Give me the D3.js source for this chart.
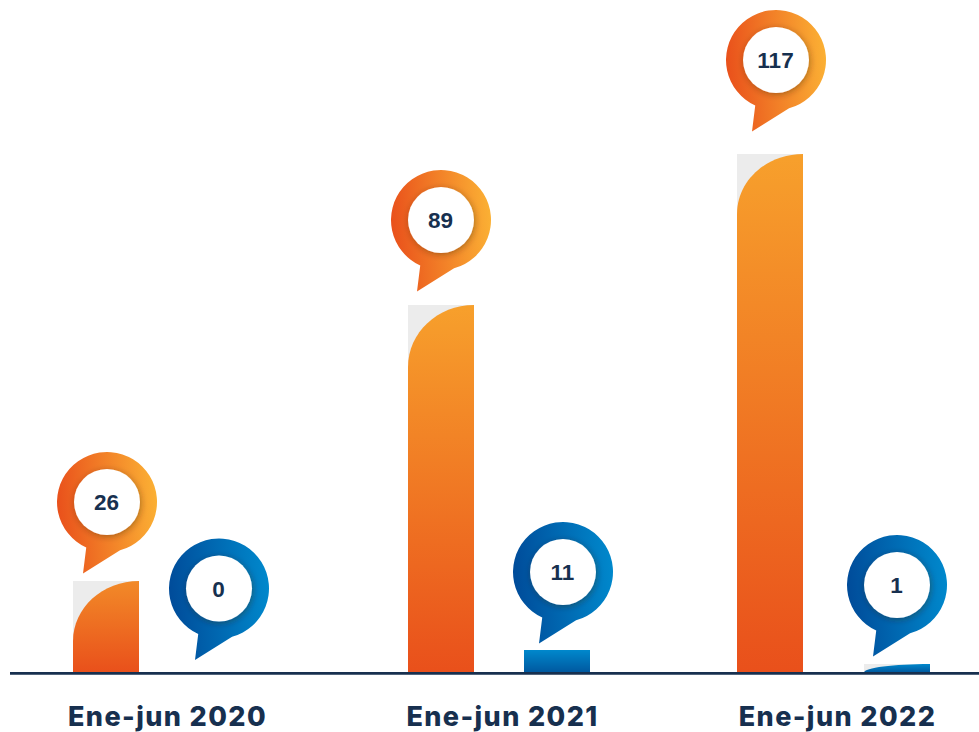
<!DOCTYPE html>
<html><head><meta charset="utf-8">
<script src="https://cdn.jsdelivr.net/npm/d3@7"></script>
<style>html,body{margin:0;padding:0;background:#fff}svg{display:block}</style>
</head><body><div id="chart"></div>
<script>
const categories = ["Ene-jun 2020", "Ene-jun 2021", "Ene-jun 2022"];
const orangeValues = [26, 89, 117];
const blueValues = [0, 11, 1];
// The source graphic is not drawn to a linear scale: these are the value / height pairs it uses.
const scaleValues = [0, 1, 11, 26, 89, 117];
const scaleHeights = [0, 8.5, 22.5, 91.5, 367.5, 518.5];

const W = 979, H = 732, baseY = 672.5, barW = 66;
const navy = "#17304f";
const xScale = d3.scalePoint().domain(categories).range([167, 837]);
const hScale = d3.scaleLinear().domain(scaleValues).range(scaleHeights);

// layout: bar centre offset from the group centre, pin offset from the bar-top
const layout = {
  orange: {barDx: [-61, -61, -67], pinDx: [1, 0, 6], pinDy: [-79, -85, -94], ry: [60, 62, 60], rx: [66, 66, 66], top: ["#f28a28", "#f7a02c", "#f7a02c"]},
  blue: {barDx: [52, 55, 60], pinDx: [0, 6, 0], pinDy: [-84, -78, -79], ry: [0, 0, 8.5], rx: [0, 0, 66], top: ["#0088cc", "#0088cc", "#0088cc"]}
};
const ends = {
  orange: {bottom: "#e9501b", left: "#e9501b", right: "#fbb034"},
  blue: {bottom: "#00589f", left: "#004b99", right: "#0088cc"}
};

const svg = d3.select("#chart").append("svg").attr("width", W).attr("height", H);
const defs = svg.append("defs");
for (const k of ["orange", "blue"]) {
  const g = defs.append("linearGradient").attr("id", "pin-" + k).attr("x1", 0).attr("x2", 1).attr("y1", .5).attr("y2", .42);
  g.append("stop").attr("offset", 0).attr("stop-color", ends[k].left);
  g.append("stop").attr("offset", 1).attr("stop-color", ends[k].right);
  layout[k].top.forEach((c, i) => {
    const b = defs.append("linearGradient").attr("id", `bar-${k}-${i}`).attr("x1", 0).attr("x2", 0).attr("y1", 0).attr("y2", 1);
    b.append("stop").attr("offset", 0).attr("stop-color", c);
    b.append("stop").attr("offset", 1).attr("stop-color", ends[k].bottom);
  });
}
const f = defs.append("filter").attr("id", "sh").attr("x", "-30%").attr("y", "-30%").attr("width", "160%").attr("height", "160%");
f.append("feDropShadow").attr("dx", 1).attr("dy", 1.5).attr("stdDeviation", 3).attr("flood-color", "#3a2a10").attr("flood-opacity", .4);

function drawSeries(key, values) {
  const L = layout[key];
  const K = 0.5523;
  values.forEach((v, i) => {
    const cx = xScale(categories[i]) + L.barDx[i];
    const h = hScale(v);
    const x0 = cx - barW / 2, x1 = cx + barW / 2, top = baseY - h;
    if (h > 0) {
      const rx = L.rx[i], ry = L.ry[i];
      if (rx > 0) svg.append("rect").attr("x", x0).attr("y", top).attr("width", barW).attr("height", h).attr("fill", "#ececec");
      const p = d3.path();
      p.moveTo(x1, baseY);
      p.lineTo(x1, top);
      if (rx > 0) p.bezierCurveTo(x1 - rx * K, top, x0, top + ry * (1 - K), x0, top + ry);
      else p.lineTo(x0, top);
      p.lineTo(x0, baseY);
      p.closePath();
      svg.append("path").attr("d", p.toString()).attr("fill", `url(#bar-${key}-${i})`);
    }
    // pin
    const px = cx + L.pinDx[i], py = top + L.pinDy[i], R = 50;
    const pin = d3.path();
    const a0 = Math.atan2(48, 13), a1 = Math.atan2(46, -21);
    pin.moveTo(px + R * Math.cos(a1), py + R * Math.sin(a1));
    pin.arc(px, py, R, a1, a0 + 2 * Math.PI);
    pin.lineTo(px - 24, py + 71.5);
    pin.closePath();
    svg.append("path").attr("d", pin.toString()).attr("fill", `url(#pin-${key})`);
    svg.append("circle").attr("cx", px).attr("cy", py).attr("r", 33).attr("fill", "#fff").attr("filter", "url(#sh)");
    svg.append("text").attr("x", px - 0.5).attr("y", py + 8).attr("text-anchor", "middle")
      .attr("font-family", "'Liberation Sans',Arial,sans-serif").attr("font-weight", 700).attr("font-size", 22.5)
      .attr("fill", navy).text(v);
  });
}
drawSeries("orange", orangeValues);
drawSeries("blue", blueValues);

svg.append("line").attr("x1", 10).attr("x2", W).attr("y1", 673.4).attr("y2", 673.4).attr("stroke", navy).attr("stroke-width", 2.6);

const axis = svg.append("g").attr("transform", `translate(0,${baseY})`).call(d3.axisBottom(xScale).tickSize(0).tickPadding(0));
axis.select(".domain").remove();
axis.selectAll("text").attr("y", 53.5).attr("dy", 0)
  .attr("font-family", "Inter,sans-serif").attr("font-weight", 800).attr("font-size", 27)
  .attr("letter-spacing", 1.4).attr("fill", navy);
</script></body></html>
